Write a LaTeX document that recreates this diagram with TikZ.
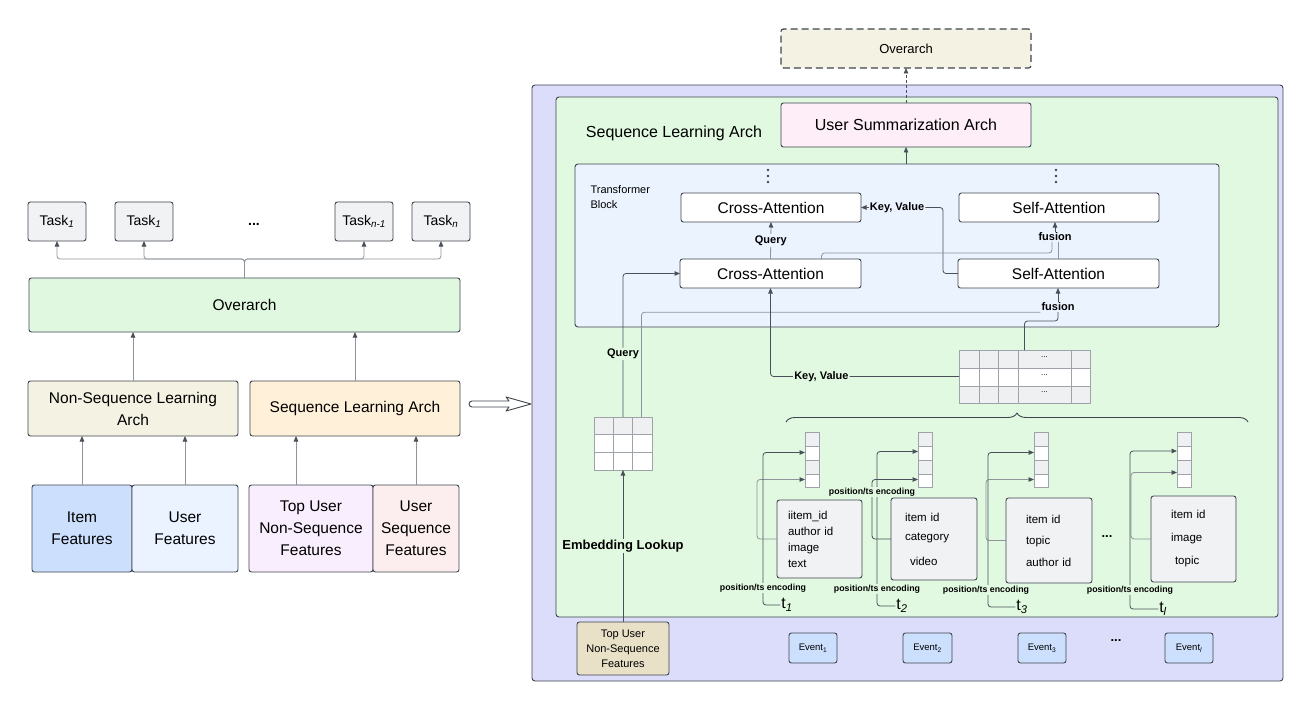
\documentclass[tikz,border=0pt]{standalone}
\usepackage{fontspec}
\setmainfont{Liberation Sans}
\usetikzlibrary{arrows.meta,decorations.pathreplacing,calc}
\definecolor{bordC}{HTML}{3F454D}
\definecolor{arrC}{HTML}{4A5059}
\definecolor{gC}{HTML}{8F949A}
\definecolor{gridC}{HTML}{9EA3A9}
\definecolor{taskF}{HTML}{F1F2F4}
\definecolor{ovF}{HTML}{E0F8E0}
\definecolor{nseqF}{HTML}{F4F2E2}
\definecolor{seqF}{HTML}{FFF1D9}
\definecolor{itemFC}{HTML}{CCE0FE}
\definecolor{userFC}{HTML}{EAF3FF}
\definecolor{topUF}{HTML}{F9EEFD}
\definecolor{useqF}{HTML}{FCEEEE}
\definecolor{purpF}{HTML}{DCDCFB}
\definecolor{greenF}{HTML}{E1F9E0}
\definecolor{tbF}{HTML}{EBF3FE}
\definecolor{usumF}{HTML}{FDEEF8}
\definecolor{topRF}{HTML}{E8E1C8}
\definecolor{gridF}{HTML}{EEF0F2}
\newcommand\fs[2]{\fontsize{#1}{#2}\selectfont}
\newcommand\Bx[7]{\node[#6, minimum width={#4-#2}, minimum height={#5-#3}] (#1) at ({(#2+#4)/2},{(#3+#5)/2}) {#7};}
\begin{document}
\begin{tikzpicture}[x=1pt,y=-1pt, line join=round,
  base/.style={draw=bordC, line width=0.9pt, rounded corners=2.5pt, inner sep=0pt, outer sep=0pt, align=center},
  frame/.style={draw=bordC, line width=0.9pt, rounded corners=3pt, inner sep=0pt, outer sep=0pt},
  task/.style={base, fill=taskF, font=\fs{14}{17}},
  feat/.style={base, font=\fs{15.5}{22}},
  abox/.style={base, fill=white, font=\fs{15.5}{18}},
  ibox/.style={base, fill=taskF, font=\fs{11.5}{16}, align=left},
  evbox/.style={base, fill=itemFC, font=\fs{9.5}{12}},
  arr/.style={draw=arrC, line width=0.8pt, -{Triangle[length=5.5pt,width=4.5pt]}},
  garr/.style={draw=gC, line width=0.8pt, -{Triangle[length=5.5pt,width=4.5pt,color=arrC]}},
  gl/.style={draw=gC, line width=0.8pt},
  dl/.style={draw=arrC, line width=0.8pt},
  lbl/.style={inner sep=1.2pt, outer sep=0pt, font=\bfseries\fs{11}{13}},
  plbl/.style={inner sep=1pt, outer sep=0pt, fill=greenF, font=\bfseries\fs{8.8}{10}},
  tlbl/.style={inner sep=1pt, outer sep=0pt, font=\fs{16}{18}},
]
\fill[white] (0,0) rectangle (1314,714);
\useasboundingbox (0,0) rectangle (1314,714);

% ---------------- left side ----------------
\Bx{tA}{28}{202}{86}{241}{task}{Task\textsubscript{\itshape 1}}
\Bx{tB}{115}{202}{173}{241}{task}{Task\textsubscript{\itshape 1}}
\Bx{tC}{335}{202}{393}{241}{task}{Task\textsubscript{\itshape n-1}}
\Bx{tD}{412}{202}{470}{241}{task}{Task\textsubscript{\itshape n}}
\node[font=\bfseries\fs{14}{16}] (tdots) at (254,224) {...};
\Bx{ovL}{29}{278}{460}{332}{base, fill=ovF, font=\fs{15.5}{19}}{Overarch}
\Bx{nseq}{28}{381}{238}{436}{base, fill=nseqF, font=\fs{15.5}{22}}{Non-Sequence Learning\\Arch}
\Bx{seq}{250}{381}{460}{436}{base, fill=seqF, font=\fs{15.5}{22}}{Sequence Learning Arch}
\Bx{itemF}{32}{485}{132}{572}{feat, fill=itemFC}{Item\\Features}
\Bx{userF}{132}{485}{238}{572}{feat, fill=userFC}{User\\Features}
\Bx{topU}{249}{485}{373}{572}{feat, fill=topUF}{Top User\\Non-Sequence\\Features}
\Bx{useqB}{373}{485}{459}{572}{feat, fill=useqF}{User\\Sequence\\Features}

\foreach \t in {tA,tB,tC,tD}
  \draw[garr, rounded corners=3] (ovL.north) -- ++(0,-19) -| (\t.south);
\draw[garr] (nseq.north) -- (nseq.north |- ovL.south);
\draw[garr] (seq.north) -- (seq.north |- ovL.south);
\draw[garr] (itemF.north) -- (itemF.north |- nseq.south);
\draw[garr] (userF.north) -- (userF.north |- nseq.south);
\draw[garr] ([xshift=-15]topU.north) -- +(0,-49);
\draw[garr] (useqB.north) -- (useqB.north |- seq.south);

% hollow arrow
\draw[draw=bordC, line width=0.9pt, fill=white] (472,401) -- (509,401) -- (506,397) -- (531,404) -- (506,411) -- (509,407) -- (472,407) arc[start angle=270, end angle=90, radius=3pt] -- cycle;

% ---------------- right side ----------------
\Bx{outer}{532}{85}{1283}{681}{frame, fill=purpF}{}
\Bx{green}{556}{97}{1278}{617}{frame, fill=greenF}{}
\Bx{tb}{575}{164}{1219}{327}{frame, fill=tbF}{}
\Bx{ovR}{781}{29}{1031}{68}{base, line width=1.2pt, dash pattern=on 7pt off 4pt, fill=nseqF, font=\fs{13}{16}}{Overarch}
\Bx{usum}{781}{103}{1031}{147}{base, fill=usumF, font=\fs{16}{19}}{User Summarization Arch}
\node[font=\fs{16}{19}] (slaR) at (674,133) {Sequence Learning Arch};
\node[font=\fs{11}{15}, align=left, anchor=north west] (tbl) at (587,182) {Transformer\\Block};
\foreach \x in {768,1056} \foreach \y in {170,176,182} \fill[bordC] (\x,\y) circle[radius=1.3pt];

\Bx{caT}{681}{193}{861}{222}{abox}{Cross-Attention}
\Bx{saT}{959}{193}{1159}{222}{abox}{Self-Attention}
\Bx{caB}{680}{259}{861}{288}{abox}{Cross-Attention}
\Bx{saB}{958}{259}{1159}{288}{abox}{Self-Attention}

\draw[arr, dash pattern=on 3pt off 2pt] (usum.north) -- (ovR.south);
\draw[arr] (usum.south |- tb.north) -- (usum.south);

\draw[arr, rounded corners=3] (saB.west) -- ++(-15,0) |- (caT.east) node[pos=0.78, lbl, fill=tbF] {Key, Value};
\draw[garr] (caB.north) -- (caT.south) node[midway, lbl, fill=tbF] {Query};
\node[lbl, fill=tbF] (fus1) at (1055,237) {fusion};
\draw[gl, rounded corners=3] ([xshift=51]caB.north) -- ++(0,-6) -| ([xshift=-3]fus1.south);
\draw[gl] (saB.north) -- (saB.north |- fus1.south);
\draw[arr] (fus1.north) -- (fus1.north |- saT.south);

% embedding table
\fill[gridF] (594,417) rectangle (652,434);
\fill[white] (594,434) rectangle (652,470);
\foreach \x in {613,632} \draw[gridC, line width=0.8pt] (\x,417) -- (\x,470);
\foreach \y in {434,452} \draw[gridC, line width=0.8pt] (594,\y) -- (652,\y);
\node[draw=gridC, line width=0.8pt, inner sep=0, outer sep=0, minimum width=58, minimum height=53] (emb) at (623,443.5) {};

% key/value table
\fill[gridF] (959,350) rectangle (1090,368);
\fill[white] (959,368) rectangle (1090,386);
\fill[gridF] (959,386) rectangle (1090,403);
\foreach \x in {979,998,1018,1071} \draw[gridC, line width=0.8pt] (\x,350) -- (\x,403);
\foreach \y in {368,386} \draw[gridC, line width=0.8pt] (959,\y) -- (1090,\y);
\node[draw=gridC, line width=0.8pt, inner sep=0, outer sep=0, minimum width=131, minimum height=53] (kv) at (1024.5,376.5) {};
\foreach \y in {357,375,392} \node[font=\fs{8}{9}] at (1044.5,\y) {...};

\node[lbl, fill=tbF] (fus2) at (1058,307) {fusion};
\draw[arr] (fus2.north) -- (fus2.north |- saB.south);
\draw[gl, rounded corners=3] ([xshift=18.5]emb.north) |- (fus2.south west);
\draw[dl, rounded corners=3] (kv.north) -- ++(0,-29) -| (fus2.south);
\draw[arr, rounded corners=3] (emb.north) |- (caB.west) node[pos=0.22, lbl, fill=greenF] {Query};
\draw[arr, rounded corners=3] (kv.west) -| (caB.south) node[pos=0.365, lbl, fill=greenF] {Key, Value};

% brace
\draw[bordC, line width=0.9pt, decorate, decoration={brace, amplitude=9pt}] (786,422) -- (1248,422);

% vectors
\foreach \n/\x in {1/805,2/918,3/1034,4/1177}{
  \fill[gridF] (\x,432) rectangle ++(14,14);
  \fill[white] (\x,446) rectangle ++(14,14);
  \fill[gridF] (\x,460) rectangle ++(14,14);
  \fill[white] (\x,474) rectangle ++(14,13);
  \foreach \y in {446,460,474} \draw[gridC, line width=0.8pt] (\x,\y) -- ++(14,0);
  \node[draw=gridC, line width=0.8pt, inner sep=0, outer sep=0, minimum width=14, minimum height=55] (v\n) at (\x+7,459.5) {};
}

% item boxes
\node[ibox, text width=63, inner xsep=11, minimum height=78] (ib1) at (819.5,539) {iitem\_id\\author id\\image\\text};
\node[ibox, text width=58, inner xsep=14, minimum height=82] (ib2) at (934,539) {item id\\[3pt]category\\[9pt]\hspace*{5pt}video};
\node[ibox, text width=46, inner xsep=20, minimum height=85] (ib3) at (1049,540.5) {item id\\[5.5pt]topic\\[5.5pt]author id};
\node[ibox, text width=45, inner xsep=20, minimum height=86] (ib4) at (1193.5,539) {item id\\[7pt]image\\[7pt]\hspace*{4pt}topic};

\node[tlbl] (tl1) at (787,605) {t\textsubscript{\itshape 1}};
\node[tlbl] (tl2) at (902,606) {t\textsubscript{\itshape 2}};
\node[tlbl] (tl3) at (1022,607) {t\textsubscript{\itshape 3}};
\node[tlbl] (tl4) at (1163,609) {t\textsubscript{\itshape l}};

\draw[garr, rounded corners=3] (ib1.west) -| ([xshift=-48,yshift=-20]v1.west) -- ([yshift=-20]v1.west);
\draw[arr, rounded corners=3] (tl1.west) -| ([xshift=-42,yshift=7]v1.west) -- ([yshift=7]v1.west);
\draw[arr, rounded corners=3] (ib2.west) -| ([xshift=-46,yshift=-20]v2.west) -- ([yshift=-20]v2.west);
\draw[arr, rounded corners=3] (tl2.west) -| ([xshift=-41,yshift=8]v2.west) -- ([yshift=8]v2.west);
\draw[garr, rounded corners=3] (ib3.west) -| ([xshift=-48,yshift=-20]v3.west) -- ([yshift=-20]v3.west);
\draw[arr, rounded corners=3] (tl3.west) -| ([xshift=-46,yshift=7]v3.west) -- ([yshift=7]v3.west);
\draw[garr, rounded corners=3] (ib4.west) -| ([xshift=-46,yshift=-13]v4.west) -- ([yshift=-13]v4.west);
\draw[arr, rounded corners=3] (tl4.west) -| ([xshift=-47,yshift=8.5]v4.west) -- ([yshift=8.5]v4.west);

\node[plbl] (p1) at (763,588) {position/ts encoding};
\node[plbl] (p2a) at (872,492) {position/ts encoding};
\node[plbl] (p2) at (877,589) {position/ts encoding};
\node[plbl] (p3) at (986,590) {position/ts encoding};
\node[plbl] (p4) at (1130,590) {position/ts encoding};

\node[font=\bfseries\fs{13}{15}] (idots) at (1107,537) {...};

% bottom row
\Bx{topR}{577}{622}{669}{675}{base, fill=topRF, font=\fs{11}{15}}{Top User\\Non-Sequence\\Features}
\draw[arr] (topR.north) -- (emb.south) node[midway, lbl, fill=greenF, font=\bfseries\fs{13}{15}] {Embedding Lookup};
\Bx{ev1}{789}{633}{837}{663}{evbox}{Event\textsubscript{1}}
\Bx{ev2}{903}{633}{952}{663}{evbox}{Event\textsubscript{2}}
\Bx{ev3}{1018}{633}{1066}{663}{evbox}{Event\textsubscript{3}}
\Bx{ev4}{1165}{633}{1213}{663}{evbox}{Event\textsubscript{\itshape l}}
\node[font=\bfseries\fs{13}{15}] (edots) at (1116,641) {...};
\end{tikzpicture}
\end{document}
